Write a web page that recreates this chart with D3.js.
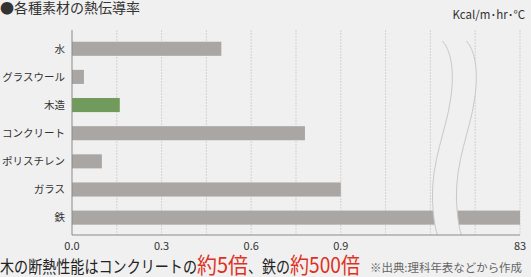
<!DOCTYPE html>
<html><head><meta charset="utf-8">
<script src="https://cdn.jsdelivr.net/npm/d3@7"></script>
<style>
html,body{margin:0;padding:0;background:#f0f0f0;}
svg{display:block;font-family:"Noto Sans CJK JP","Noto Sans",sans-serif;}
</style></head><body>
<script>
const categories = ["水","グラスウール","木造","コンクリート","ポリスチレン","ガラス","鉄"];
const values = [0.5, 0.04, 0.16, 0.78, 0.1, 0.9, 83];
const highlight = "木造";
const tickValues = [0, 0.3, 0.6, 0.9, 83];
const tickLabels = ["0.0","0.3","0.6","0.9","83"];
const gridValues = [0,0.15,0.3,0.45,0.6,0.75,0.9,1.05,1.2,1.35,83];
const title = "●各種素材の熱伝導率";
const unit = "Kcal/m･hr･°C";
const footerParts = ["木の断熱性能はコンクリートの","約5倍","、鉄の","約500倍"];
const note = "※出典:理科年表などから作成";

(function(){
const W = 531, H = 277;
const svg = d3.select("body").append("svg").attr("width", W).attr("height", H);
svg.append("rect").attr("width", W).attr("height", H).attr("fill", "#f0f0f0");

const x = d3.scaleLinear().domain([0, 1.35, 83]).range([72, 475.2, 520]);
const y = d3.scaleBand().domain(categories).range([34.7, 231.7]).paddingInner(0.5).paddingOuter(0.25);
const yTop = 30, yBottom = 235;

// grid
svg.append("g").selectAll("line").data(gridValues.slice(1)).join("line")
  .attr("x1", d => x(d)).attr("x2", d => x(d)).attr("y1", yTop).attr("y2", yBottom)
  .attr("stroke", "#d2d2d2").attr("stroke-width", 1).attr("stroke-dasharray", "2,1");

// bars
svg.append("g").selectAll("rect").data(categories).join("rect")
  .attr("x", x(0)).attr("y", d => y(d))
  .attr("width", (d, i) => x(values[i]) - x(0)).attr("height", y.bandwidth())
  .attr("fill", d => d === highlight ? "#709b5c" : "#aaa6a4");

// break (between 1.05 and 1.35 gridlines)
const B = x(1.2) + 20;
const gap = 24;
function seg(o) {
  const b = B + o;
  return `M${b-8},41 C${b+2},52 ${b+4},75 ${b},100 C${b-4},130 ${b-19},160 ${b-18},200 C${b-17},215 ${b-16},226 ${b-13},${yBottom}`;
}
function segRev(o) {
  const b = B + o;
  return `L${b-13},${yBottom} C${b-16},226 ${b-17},215 ${b-18},200 C${b-19},160 ${b-4},130 ${b},100 C${b+4},75 ${b+2},52 ${b-8},41 Z`;
}
svg.append("path").attr("d", seg(0) + " " + segRev(gap)).attr("fill", "#f0f0f0");
svg.append("path").attr("d", seg(0)).attr("fill", "none").attr("stroke", "#c8c8c8").attr("stroke-width", 1);
svg.append("path").attr("d", seg(gap)).attr("fill", "none").attr("stroke", "#c8c8c8").attr("stroke-width", 1);

// axes lines
svg.append("line").attr("x1", x(0)).attr("x2", x(0)).attr("y1", yTop).attr("y2", yBottom).attr("stroke", "#8a8a8a");
svg.append("line").attr("x1", x(0)).attr("x2", x(83)).attr("y1", yBottom).attr("y2", yBottom).attr("stroke", "#8a8a8a");

// x tick labels
svg.append("g").selectAll("text").data(tickValues).join("text")
  .attr("x", d => x(d)).attr("y", 249.5).attr("text-anchor", "middle")
  .attr("font-size", 11).attr("fill", "#333").text((d, i) => tickLabels[i]);

// y labels
svg.append("g").selectAll("text").data(categories).join("text")
  .attr("x", 65).attr("y", d => y(d) + y.bandwidth() / 2).attr("dy", "0.36em")
  .attr("text-anchor", "end").attr("font-size", 10.5).attr("fill", "#333").text(d => d);

// title & unit
svg.append("text").attr("x", 0).attr("y", 13).attr("font-size", 14).attr("fill", "#333").text(title);
svg.append("text").attr("x", 525).attr("y", 19).attr("text-anchor", "end").attr("font-size", 11.5).attr("fill", "#333").text(unit);

// footer
const fx = [0, 197, 248, 290], fw = [197, 51, 42, 70];
const fs = [16.5, 22, 16.5, 22], fc = ["#222", "#e0301e", "#222", "#e0301e"];
footerParts.forEach((t, i) => {
  svg.append("text").attr("x", fx[i]).attr("y", 273).attr("font-size", fs[i]).attr("fill", fc[i])
    .attr("textLength", fw[i]).attr("lengthAdjust", "spacingAndGlyphs").text(t);
});
svg.append("text").attr("x", 370).attr("y", 272).attr("font-size", 11.5).attr("fill", "#666")
  .attr("textLength", 152).attr("lengthAdjust", "spacingAndGlyphs").text(note);
})();
</script>
</body></html>
